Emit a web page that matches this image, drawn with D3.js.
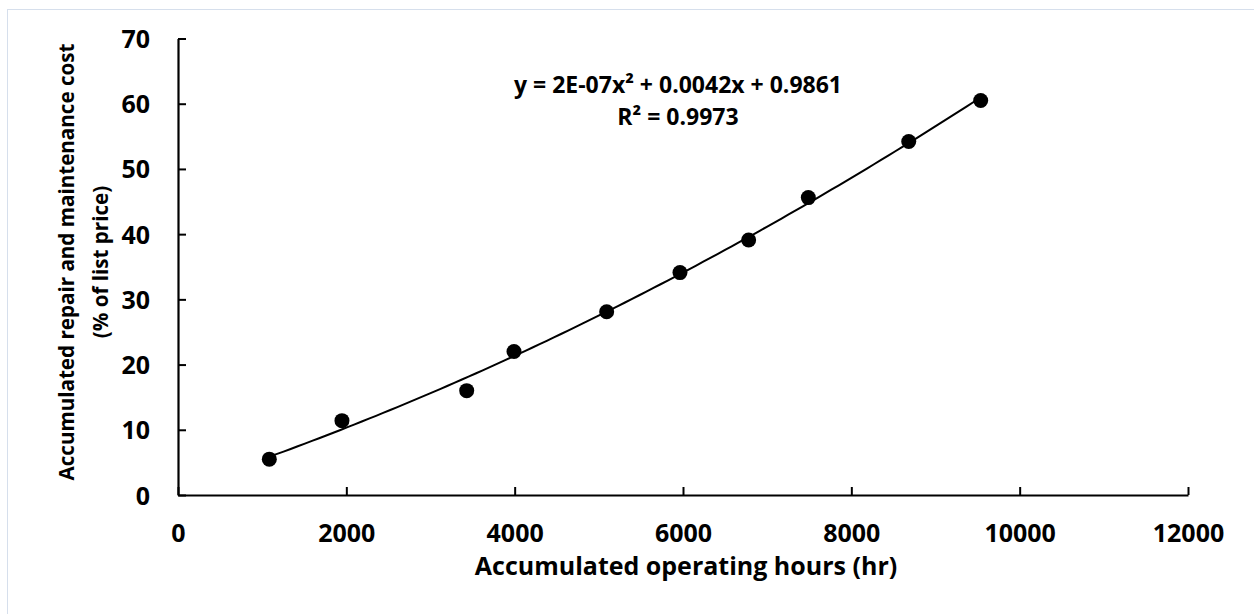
<!DOCTYPE html>
<html>
<head>
<meta charset="utf-8">
<script src="https://cdn.jsdelivr.net/npm/d3@7"></script>
<style>
  html, body { margin: 0; padding: 0; background: #fff; }
  svg { display: block; }
  text { font-family: "Open Sans", Lato, sans-serif; font-weight: bold; fill: #000; }
</style>
</head>
<body>
<svg id="chart" width="1254" height="614"></svg>
<script>
// ---- data ----
const hours = [1085, 1948, 3430, 3992, 5093, 5964, 6780, 7489, 8682, 9537];
const cost  = [5.5, 11.4, 16.0, 22.0, 28.1, 34.1, 39.1, 45.6, 54.2, 60.5];
const xTicks = [0, 2000, 4000, 6000, 8000, 10000, 12000];
const yTicks = [0, 10, 20, 30, 40, 50, 60, 70];
const xTitle = "Accumulated operating hours (hr)";
const yTitleLines = ["Accumulated repair and maintenance cost", "(% of list price)"];
const equationLines = ["y = 2E-07x² + 0.0042x + 0.9861", "R² = 0.9973"];

// ---- layout ----
const svg = d3.select("#chart");
const plotLeft = 178, plotRight = 1188, plotTop = 38.5, plotBottom = 495;
const FONT = "'Open Sans', Lato, sans-serif";

svg.append("rect")
  .attr("x", 7.5).attr("y", 9.5).attr("width", 1300).attr("height", 700)
  .attr("fill", "#fff").attr("stroke", "#d6dfec").attr("stroke-width", 1);

const x = d3.scaleLinear().domain([0, 12000]).range([plotLeft, plotRight]);
const y = d3.scaleLinear().domain([0, 70]).range([plotBottom, plotTop]);

// quadratic least-squares trendline from the points
function quadFit(xs, ys) {
  const n = xs.length;
  let S = [0,0,0,0,0], T = [0,0,0];
  for (let i = 0; i < n; i++) {
    const xi = xs[i], yi = ys[i];
    for (let k = 0; k <= 4; k++) S[k] += Math.pow(xi, k);
    for (let k = 0; k <= 2; k++) T[k] += Math.pow(xi, k) * yi;
  }
  const A = [[S[0],S[1],S[2],T[0]],[S[1],S[2],S[3],T[1]],[S[2],S[3],S[4],T[2]]];
  for (let i = 0; i < 3; i++) {
    let p = i;
    for (let r = i+1; r < 3; r++) if (Math.abs(A[r][i]) > Math.abs(A[p][i])) p = r;
    [A[i], A[p]] = [A[p], A[i]];
    for (let r = 0; r < 3; r++) {
      if (r === i) continue;
      const f = A[r][i] / A[i][i];
      for (let c = i; c < 4; c++) A[r][c] -= f * A[i][c];
    }
  }
  return [A[0][3]/A[0][0], A[1][3]/A[1][1], A[2][3]/A[2][2]];
}
const [c0, c1, c2] = quadFit(hours, cost);
const hMin = d3.min(hours), hMax = d3.max(hours);
const trend = d3.range(0, 101).map(i => {
  const h = hMin + (hMax - hMin) * i / 100;
  return [h, c0 + c1 * h + c2 * h * h];
});

// axes
const xAxis = d3.axisBottom(x).tickValues(xTicks).tickSizeInner(-8).tickSizeOuter(0).tickFormat(d3.format("d"));
const yAxis = d3.axisLeft(y).tickValues(yTicks).tickSizeInner(-8).tickSizeOuter(0).tickFormat(d3.format("d"));

const gx = svg.append("g").attr("transform", `translate(0,${plotBottom})`).call(xAxis);
const gy = svg.append("g").attr("transform", `translate(${plotLeft},0)`).call(yAxis);

[gx, gy].forEach(g => {
  g.select(".domain").attr("stroke", "#000").attr("stroke-width", 2.2);
  g.selectAll(".tick line").attr("stroke", "#000").attr("stroke-width", 2);
  g.selectAll(".tick text").style("font-size", "25px").style("font-family", FONT).style("font-weight", "bold").attr("fill", "#000");
});
gx.selectAll(".tick text").attr("y", 47).attr("dy", 0);
gy.selectAll(".tick text").attr("x", -28).attr("dy", "0.36em");

// trendline
svg.append("path")
  .datum(trend)
  .attr("fill", "none").attr("stroke", "#000").attr("stroke-width", 2)
  .attr("d", d3.line().x(d => x(d[0])).y(d => y(d[1])));

// points
svg.append("g").selectAll("circle")
  .data(hours.map((h, i) => [h, cost[i]]))
  .join("circle")
  .attr("cx", d => x(d[0])).attr("cy", d => y(d[1]))
  .attr("r", 7.5).attr("fill", "#000");

// equation
svg.append("text").attr("x", 678).attr("y", 93).attr("text-anchor", "middle")
  .style("font-size", "23px").text(equationLines[0]);
svg.append("text").attr("x", 678).attr("y", 125).attr("text-anchor", "middle")
  .style("font-size", "23px").text(equationLines[1]);

// axis titles
svg.append("text").attr("x", 686).attr("y", 575).attr("text-anchor", "middle")
  .style("font-size", "25px").text(xTitle);

yTitleLines.forEach((t, i) => {
  svg.append("text")
    .attr("transform", `translate(${74 + i * 34},262) rotate(-90)`)
    .attr("text-anchor", "middle")
    .style("font-size", "20.6px").text(t);
});
</script>
</body>
</html>
